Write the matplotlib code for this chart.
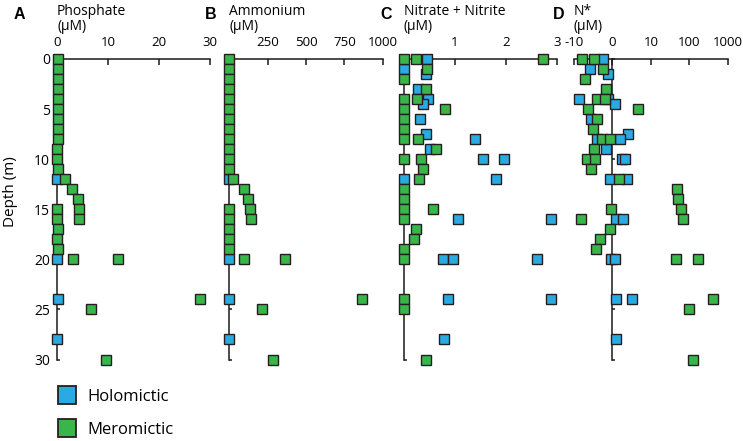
import matplotlib
matplotlib.use('Agg')
import matplotlib.pyplot as plt
from matplotlib.lines import Line2D
from matplotlib.ticker import NullLocator

plt.rcParams['font.family'] = ['Open Sans', 'DejaVu Sans']

# ---------------- data ----------------
depth_ticks = [0, 5, 10, 15, 20, 25, 30]

# A: Phosphate (uM)
phos_holo_depth = [12, 20, 24, 28]
phos_holo_val = [0.0, 0.0, 0.1, 0.0]
phos_mero_depth = [0, 1, 2, 3, 4, 5, 6, 7, 8, 9, 10, 11, 12, 13, 14, 15, 16,
                   15, 16, 17, 18, 19, 20, 20, 24, 25, 30]
phos_mero_val = [0.1, 0.1, 0.1, 0.1, 0.1, 0.1, 0.1, 0.1, 0.1, 0.0, 0.0, 0.1,
                 1.6, 2.9, 4.2, 4.4, 4.4, 0.0, 0.0, 0.1, 0.0, 0.1, 3.2, 12.0,
                 28.0, 6.6, 9.5]

# B: Ammonium (uM)
amm_holo_depth = [12, 20, 24, 28]
amm_holo_val = [0, 0, 0, 0]
amm_mero_depth = [0, 1, 2, 3, 4, 5, 6, 7, 8, 9, 10, 11, 12, 13, 14, 15, 16,
                  15, 16, 17, 18, 19, 20, 20, 24, 25, 30]
amm_mero_val = [1, 1, 1, 1, 1, 1, 1, 1, 1, 1, 1, 1, 23, 95, 120, 135, 142,
                1, 1, 1, 1, 1, 98, 363, 864, 211, 283]

# C: Nitrate + Nitrite (uM)
nit_holo_depth = [0, 1, 1.5, 3, 4, 4.5, 6, 7.5, 8, 9, 10, 10, 12, 12, 16, 16,
                  20, 20, 20, 24, 24, 28]
nit_holo_val = [0.46, 0.0, 0.44, 0.28, 0.48, 0.38, 0.31, 0.44, 1.39, 0.50,
                1.54, 1.96, 0.0, 1.80, 1.05, 2.88, 0.77, 0.97, 2.60, 0.87,
                2.88, 0.78]
nit_mero_depth = [0, 0, 0, 1, 2, 3, 4, 4, 5, 5, 6, 7, 8, 8, 9, 10, 10, 11, 12,
                  13, 14, 15, 15, 16, 17, 18, 19, 20, 24, 25, 30]
nit_mero_val = [0.0, 0.23, 2.73, 0.46, 0.0, 0.44, 0.0, 0.25, 0.0, 0.80, 0.0,
                0.0, 0.0, 0.27, 0.63, 0.0, 0.33, 0.38, 0.30, 0.0, 0.0, 0.0,
                0.56, 0.0, 0.23, 0.20, 0.0, 0.0, 0.0, 0.0, 0.44]

# D: N* (uM)
ns_holo_depth = [0, 1, 1.5, 4, 4, 4.5, 6, 7.5, 8, 8, 9, 10, 10, 12, 12, 16,
                 16, 20, 20, 24, 24, 28]
ns_holo_val = [-2.4, -5.9, -1.1, -8.8, -1.1, 0.6, -5.7, 4.1, -4.0, 1.9, -1.7,
               2.6, 3.2, -0.6, 3.8, 1.0, 2.8, -0.3, 0.6, 1.0, 5.1, 1.0]
ns_mero_depth = [0, 0, 1, 2, 3, 4, 4, 5, 5, 6, 7, 8, 8, 9, 10, 10, 11, 12, 13,
                 14, 15, 15, 16, 16, 17, 18, 19, 20, 20, 24, 25, 30]
ns_mero_val = [-7.9, -4.9, -2.4, -7.2, -1.6, -3.9, -2.0, -6.4, 6.7, -4.0,
               -5.1, -2.7, -0.7, -4.9, -6.6, -4.6, -5.5, 1.7, 47, 50, -0.3,
               61, -8.1, 67, -0.7, -3.3, -4.2, 44, 165, 410, 100, 123]

titles = ['Phosphate', 'Ammonium', 'Nitrate + Nitrite', 'N*']
letters = ['A', 'B', 'C', 'D']
xlims = [(0, 30), (0, 1000), (0, 3), (-10, 1000)]
xticks = [[0, 10, 20, 30], [0, 250, 500, 750, 1000], [0, 1, 2, 3],
          [-10, 0, 10, 100, 1000]]
xticklabels = [['0', '10', '20', '30'], ['', '250', '500', '750', '1000'],
               ['', '1', '2', '3'], ['-10', '0', '10', '100', '1000']]
holo = [(phos_holo_val, phos_holo_depth), (amm_holo_val, amm_holo_depth),
        (nit_holo_val, nit_holo_depth), (ns_holo_val, ns_holo_depth)]
mero = [(phos_mero_val, phos_mero_depth), (amm_mero_val, amm_mero_depth),
        (nit_mero_val, nit_mero_depth), (ns_mero_val, ns_mero_depth)]

# ---------------- style ----------------
BLUE = '#29ABE2'
GREEN = '#39B54A'
EDGE = '#231F20'
W, H = 743, 441
fig = plt.figure(figsize=(W / 100, H / 100), dpi=100)


def fx(px):
    return px / W


def fy(py):
    return 1 - py / H


top_px, bot_px = 59, 359.5
panel_px = [(57, 210.3), (229.3, 382.7), (404, 557), (574, 727.7)]
letter_px = [14, 205, 380, 553]
ms, mew = 7.1, 1.0

for i in range(4):
    l, r = panel_px[i]
    ax = fig.add_axes([fx(l), fy(bot_px), (r - l) / W, (bot_px - top_px) / H])
    ax.patch.set_alpha(0)
    if i == 3:
        ax.set_xscale('symlog', linthresh=10, linscale=0.9)
        ax.spines['left'].set_position(('data', 0))
    ax.set_xlim(*xlims[i])
    ax.set_ylim(30, 0)
    for s in ['right', 'bottom']:
        ax.spines[s].set_visible(False)
    for s in ['top', 'left']:
        ax.spines[s].set_linewidth(1.1)
        ax.spines[s].set_color('#1a1a1a')
    ax.xaxis.tick_top()
    ax.set_xticks(xticks[i])
    ax.set_xticklabels(xticklabels[i])
    ax.xaxis.set_minor_locator(NullLocator())
    ax.set_yticks(depth_ticks)
    ax.yaxis.set_minor_locator(NullLocator())
    ax.tick_params(axis='x', direction='in', length=4, width=1.1, pad=7.5,
                   labelsize=9.5, top=True, bottom=False, color='#1a1a1a')
    ax.tick_params(axis='y', direction='in', length=2.5, width=1.1, pad=5,
                   labelsize=10, left=True, labelleft=(i == 0), color='#1a1a1a')
    hv, hd = holo[i]
    mv, md = mero[i]
    ax.plot(hv, hd, 's', ms=ms, mfc=BLUE, mec=EDGE, mew=mew, ls='none',
            clip_on=False, zorder=3)
    ax.plot(mv, md, 's', ms=ms, mfc=GREEN, mec=EDGE, mew=mew, ls='none',
            clip_on=False, zorder=4)
    fig.text(fx(l), fy(15), titles[i], fontsize=10, ha='left', va='baseline')
    fig.text(fx(l), fy(29.5), '(μM)', fontsize=10, ha='left', va='baseline')
    fig.text(fx(letter_px[i]), fy(19), letters[i], fontsize=11.5,
             fontweight='bold', family=['Liberation Sans', 'DejaVu Sans'],
             ha='left', va='baseline')

fig.text(fx(11), fy(192), 'Depth (m)', rotation=90, fontsize=11,
         ha='center', va='center')

handles = [Line2D([], [], marker='s', ls='none', ms=13, mfc=BLUE, mec=EDGE,
                  mew=1.3),
           Line2D([], [], marker='s', ls='none', ms=13, mfc=GREEN, mec=EDGE,
                  mew=1.3)]
fig.legend(handles, ['Holomictic', 'Meromictic'], loc='upper left',
           bbox_to_anchor=(fx(57), fy(389)), frameon=False, fontsize=12,
           handlelength=1.25, handletextpad=0.55, labelspacing=1.0,
           borderpad=0, borderaxespad=0)

fig.savefig('out.png', dpi=100)
